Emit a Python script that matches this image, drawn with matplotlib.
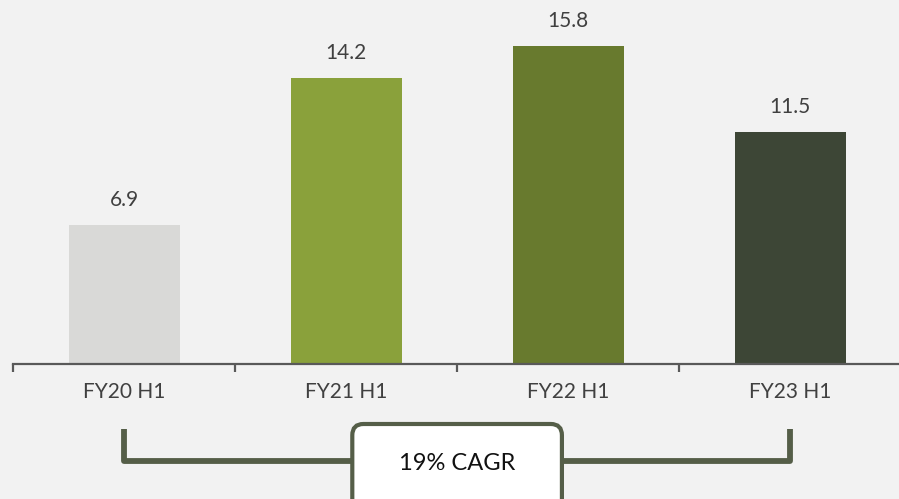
import matplotlib
matplotlib.use('Agg')
from matplotlib import pyplot as plt
from matplotlib.patches import FancyBboxPatch
from matplotlib.transforms import blended_transform_factory

categories = ['FY20 H1', 'FY21 H1', 'FY22 H1', 'FY23 H1']
values = [6.9, 14.2, 15.8, 11.5]
bar_colors = ['#d9d9d7', '#8aa13b', '#687a2e', '#3d4636']
cagr_label = '19% CAGR'

plt.rcParams['font.family'] = ['Lato', 'DejaVu Sans']

fig = plt.figure(figsize=(8.99, 4.99), dpi=100)
fig.patch.set_facecolor('#f2f2f2')
ax = fig.add_axes([13 / 899, (499 - 364) / 499, 1 - 13 / 899, 364 / 499])
ax.set_facecolor('#f2f2f2')

x = list(range(len(categories)))
ax.bar(x, values, width=0.5, color=bar_colors)
for xi, v in zip(x, values):
    ax.annotate(f'{v}', (xi, v), xytext=(0, 11), textcoords='offset points',
                ha='center', va='bottom', fontsize=15, color='#404040')

ax.set_xlim(-0.5, 3.49)
ax.set_ylim(0, 18.08)
for s in ['top', 'right', 'left']:
    ax.spines[s].set_visible(False)
ax.spines['bottom'].set_color('#595959')
ax.spines['bottom'].set_linewidth(1.6)
ax.set_yticks([])
ax.set_xticks(x)
ax.set_xticklabels(categories, fontsize=15, color='#404040')
ax.tick_params(axis='x', which='major', length=0, pad=13)
ax.set_xticks([-0.5, 0.5, 1.5, 2.5], minor=True)
ax.tick_params(axis='x', which='minor', length=6, width=1.6, color='#595959')

# CAGR bracket from first to last bar
tr = blended_transform_factory(ax.transData, fig.transFigure)
y_top = (499 - 429) / 499
y_bot = (499 - 461) / 499
ax.plot([x[0], x[0], x[-1], x[-1]], [y_top, y_bot, y_bot, y_top], transform=tr,
        color='#555e48', lw=4.2, solid_joinstyle='round', solid_capstyle='butt',
        clip_on=False, zorder=3)

mid = (x[0] + x[-1]) / 2
box = FancyBboxPatch((mid - 0.472, -0.05), 0.944, (499 - 424) / 499 + 0.05,
                     boxstyle='round,pad=0,rounding_size=0.05',
                     transform=tr, facecolor='white', edgecolor='#555e48',
                     lw=3, clip_on=False, mutation_aspect=0.45, zorder=4)
ax.add_patch(box)
ax.text(mid, (499 - 464) / 499, cagr_label, transform=tr, ha='center', va='center',
        fontsize=17, color='#111111', zorder=5)

fig.savefig('out.png', dpi=100, facecolor=fig.get_facecolor())
